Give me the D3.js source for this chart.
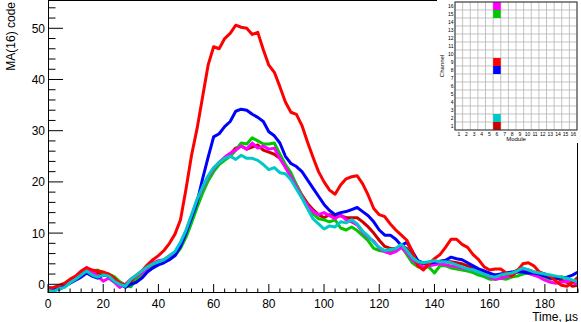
<!DOCTYPE html>
<html>
<head>
<meta charset="utf-8">
<script src="https://cdn.jsdelivr.net/npm/d3@7"></script>
<style>
  body { margin: 0; background: #fff; }
  svg { display: block; font-family: "Liberation Sans", Arial, sans-serif; }
</style>
</head>
<body>
<svg id="chart" width="581" height="322"></svg>
<script>
// sample times, µs (one point every 2 µs)
const times = d3.range(0, 193, 2)

const redVals = [-0.8,-0.6,-0.2,0.2,1.0,1.6,2.6,3.2,2.8,2.6,2.4,2.0,1.2,0.2,-0.2,0.8,1.8,2.6,3.8,4.8,
  5.6,6.6,8.0,9.8,12.6,18.6,25.2,30.4,36.6,42.8,46.4,46.0,48.0,49.0,50.6,50.2,50.0,48.8,49.2,45.8,
  42.8,41.4,38.6,35.6,33.6,33.2,31.0,27.8,24.8,22.0,20.0,18.4,17.6,19.4,20.6,21.0,21.2,19.6,17.4,14.8,
  13.6,13.2,11.8,10.6,9.6,8.6,6.4,3.6,2.8,4.0,5.0,5.8,7.2,8.8,8.8,7.8,7.2,5.8,4.8,3.4,
  2.8,3.0,3.0,2.2,1.6,2.6,4.0,4.2,3.6,2.4,2.0,1.6,0.6,-0.2,-0.4,0.4,1.4]

const blueVals = [-0.6,-0.8,-1.0,-0.4,0.2,0.8,1.4,2.2,1.6,1.2,1.8,1.6,0.6,0.2,-0.6,0.0,0.4,1.2,2.4,3.2,
  3.8,4.2,4.8,5.6,7.4,10.0,13.0,16.0,20.6,24.8,28.8,29.4,30.8,31.8,33.8,34.2,34.0,33.2,32.6,31.8,
  29.8,29.0,27.6,25.0,23.6,23.0,22.0,20.4,18.8,17.2,15.6,14.4,13.6,14.0,14.2,14.6,15.0,14.2,13.4,12.2,
  10.6,9.6,9.6,8.8,7.6,8.2,6.4,4.6,4.2,4.1,4.3,4.5,4.7,5.3,5.0,4.8,4.2,3.6,3.0,2.6,
  2.2,1.8,2.0,2.2,2.4,2.4,2.4,2.2,2.2,2.0,1.6,1.2,1.2,1.3,1.4,1.8,2.4]

const greenVals = [-1.2,-1.0,-0.8,-0.3,0.6,1.0,1.8,2.4,2.4,2.8,2.2,2.0,1.5,0.5,-0.2,-0.5,1.0,1.8,2.6,3.2,
  4.0,4.4,5.0,5.6,7.0,9.2,12.0,15.0,17.8,20.2,22.0,23.4,24.2,25.0,26.2,27.6,27.4,28.6,28.0,27.4,
  27.4,27.6,25.4,23.4,21.8,19.4,17.2,15.2,13.8,12.8,12.6,12.2,12.6,11.0,10.6,11.2,10.5,9.5,8.5,7.0,
  6.6,6.4,6.3,6.6,7.4,5.8,4.2,3.4,3.2,3.4,2.2,3.6,3.6,3.2,3.0,2.8,2.6,2.3,1.8,1.5,
  1.0,1.0,1.2,1.0,1.4,1.6,2.0,2.2,1.8,1.6,1.4,1.0,1.2,1.5,1.0,0.8,0.4]

const magentaVals = [-1.0,-1.3,-0.6,-0.2,0.8,1.5,2.5,3.3,2.4,1.6,0.6,1.2,0.4,-0.6,0.0,1.0,1.6,2.2,3.2,4.2,
  4.6,4.8,5.6,6.2,8.0,10.4,13.4,16.4,18.8,21.0,22.6,23.8,24.8,25.6,26.2,27.0,26.4,27.6,26.6,27.0,
  26.4,26.6,24.6,22.8,21.0,19.0,17.0,15.4,14.2,13.6,14.0,13.4,12.8,13.6,12.6,12.2,11.6,10.2,9.2,8.4,
  7.0,6.4,6.0,6.4,7.2,6.2,4.8,3.8,3.4,3.6,3.8,4.0,3.8,3.6,3.4,3.2,3.0,2.8,2.4,2.0,
  1.4,1.0,1.2,1.4,1.8,2.4,2.6,2.2,1.8,1.4,0.8,0.4,0.2,0.4,0.6,0.4,0.0]

const darkRedVals = [-1.4,-1.0,-0.4,0.0,0.6,1.4,2.2,2.6,2.0,2.2,2.0,1.6,1.0,0.4,-0.2,0.2,1.2,1.8,2.6,3.4,
  4.0,4.4,5.2,6.0,7.8,10.2,13.2,16.2,18.6,20.8,22.4,23.8,24.6,25.4,26.6,27.0,26.4,26.8,27.2,26.2,
  25.8,25.4,24.6,23.0,21.2,19.4,17.4,15.8,14.6,13.6,13.0,13.6,13.2,13.4,13.0,13.0,13.0,12.2,11.2,10.0,
  8.6,7.4,7.0,7.0,7.6,7.0,5.4,4.2,4.0,4.2,4.4,4.2,4.4,4.4,4.2,4.0,3.6,3.2,2.6,2.4,
  2.0,1.8,1.6,1.8,2.2,2.8,3.0,2.8,2.4,2.2,2.0,1.6,1.2,0.8,0.4,-0.4,-0.2]

const cyanVals = [-1.2,-1.4,-0.9,-0.6,0.3,1.0,1.8,2.6,1.8,1.4,1.8,1.6,0.6,0.0,-0.4,1.0,1.8,2.6,3.4,4.0,
  4.4,4.8,5.6,6.4,8.2,10.6,13.6,16.6,19.0,21.2,22.8,23.8,24.6,25.0,24.4,25.2,24.6,24.6,24.2,23.4,
  22.4,22.8,21.8,21.6,20.4,18.6,16.8,14.8,12.8,11.8,10.8,11.4,11.2,12.2,12.0,12.6,11.8,10.4,9.4,8.2,
  7.2,6.6,6.8,7.0,7.8,6.6,5.2,4.4,4.2,4.4,4.6,4.4,4.4,4.2,3.8,3.4,3.0,2.8,2.4,2.0,
  1.6,1.4,1.8,2.0,2.2,2.6,3.2,2.8,2.4,2.2,2.0,1.8,1.6,1.4,1.2,0.8,0.6]

// draw order: last one ends up on top
const series = [
  { name: 'darkred', color: '#cc0000', values: darkRedVals },
  { name: 'green', color: '#00c800', values: greenVals },
  { name: 'magenta', color: '#ff00ff', values: magentaVals },
  { name: 'blue', color: '#0000ff', values: blueVals },
  { name: 'red', color: '#ff0000', values: redVals },
  { name: 'cyan', color: '#00c8c8', values: cyanVals }
]

const xTicks = [0, 20, 40, 60, 80, 100, 120, 140, 160, 180]
const yTicks = [0, 10, 20, 30, 40, 50]

// inset hit map
const modules = d3.range(1, 17)
const channels = d3.range(1, 17)
const hits = [
  { module: 6, channel: 1, color: '#cc0000' },
  { module: 6, channel: 2, color: '#00c8c8' },
  { module: 6, channel: 8, color: '#0000ff' },
  { module: 6, channel: 9, color: '#ff0000' },
  { module: 6, channel: 15, color: '#00c800' },
  { module: 6, channel: 16, color: '#ff00ff' }
]

const svg = d3.select('#chart')
const plot = { left: 48, right: 578, top: 1, bottom: 293 }

const x = d3.scaleLinear().domain([0, 192]).range([plot.left, plot.right])
const y = d3.scaleLinear().domain([-1.7, 55.33]).range([plot.bottom, plot.top])

// curves, clipped to the frame
svg.append('clipPath').attr('id', 'clip')
  .append('rect')
  .attr('x', plot.left).attr('y', plot.top)
  .attr('width', plot.right - plot.left).attr('height', plot.bottom - plot.top)

const line = d3.line()
  .x((d, i) => x(times[i]))
  .y(d => y(d))

svg.append('g').attr('clip-path', 'url(#clip)')
  .selectAll('path')
  .data(series)
  .join('path')
  .attr('fill', 'none')
  .attr('stroke', d => d.color)
  .attr('stroke-width', 3)
  .attr('stroke-linejoin', 'round')
  .attr('d', d => line(d.values))

// x axis: ticks point up into the plot
const xAxis = svg.append('g').attr('transform', `translate(0,${plot.bottom})`)
xAxis.selectAll('line.minor')
  .data(d3.range(0, 193, 4))
  .join('line')
  .attr('x1', d => x(d)).attr('x2', d => x(d))
  .attr('y1', 0)
  .attr('y2', d => xTicks.includes(d) ? -9 : -4.5)
  .attr('stroke', '#000')
xAxis.selectAll('text')
  .data(xTicks)
  .join('text')
  .attr('x', d => x(d))
  .attr('y', 15)
  .attr('text-anchor', 'middle')
  .attr('font-size', 12)
  .text(d => d)

// y axis: ticks point right into the plot
const yAxis = svg.append('g').attr('transform', `translate(${plot.left},0)`)
yAxis.selectAll('line')
  .data(d3.range(0, 55, 2))
  .join('line')
  .attr('x1', 0)
  .attr('x2', d => yTicks.includes(d) ? 15 : 7.5)
  .attr('y1', d => y(d)).attr('y2', d => y(d))
  .attr('stroke', '#000')
yAxis.selectAll('text')
  .data(yTicks)
  .join('text')
  .attr('x', -3)
  .attr('y', d => y(d) + 4.5)
  .attr('text-anchor', 'end')
  .attr('font-size', 12)
  .text(d => d)

// frame
svg.append('rect')
  .attr('x', plot.left + 0.5).attr('y', plot.top - 0.5)
  .attr('width', plot.right - plot.left - 1).attr('height', plot.bottom - plot.top)
  .attr('fill', 'none')
  .attr('stroke', '#000')

svg.append('text')
  .attr('transform', 'translate(15,2) rotate(-90)')
  .attr('text-anchor', 'end')
  .attr('font-size', 12)
  .text('MA(16) code')

svg.append('text')
  .attr('x', 578).attr('y', 320.5)
  .attr('text-anchor', 'end')
  .attr('font-size', 12)
  .text('Time, µs')

// inset: module x channel map
const inset = { left: 455, right: 577, top: 2, bottom: 130 }
const mx = d3.scaleBand().domain(modules).range([inset.left, inset.right])
const cy = d3.scaleBand().domain(channels).range([inset.bottom, inset.top])

const g = svg.append('g')
g.append('rect')
  .attr('x', 437).attr('y', 0)
  .attr('width', 144).attr('height', 143)
  .attr('fill', '#fff')

g.selectAll('line.v')
  .data(d3.range(0, modules.length + 1))
  .join('line')
  .attr('x1', d => inset.left + d * mx.step()).attr('x2', d => inset.left + d * mx.step())
  .attr('y1', inset.top).attr('y2', inset.bottom)
  .attr('stroke', '#b4b4b4').attr('stroke-width', 0.8)
g.selectAll('line.h')
  .data(d3.range(0, channels.length + 1))
  .join('line')
  .attr('y1', d => inset.top + d * cy.step()).attr('y2', d => inset.top + d * cy.step())
  .attr('x1', inset.left).attr('x2', inset.right)
  .attr('stroke', '#b4b4b4').attr('stroke-width', 0.8)

g.selectAll('rect.hit')
  .data(hits)
  .join('rect')
  .attr('class', 'hit')
  .attr('x', d => mx(d.module)).attr('y', d => cy(d.channel))
  .attr('width', mx.bandwidth()).attr('height', cy.bandwidth())
  .attr('fill', d => d.color)

g.append('rect')
  .attr('x', inset.left).attr('y', inset.top)
  .attr('width', inset.right - inset.left).attr('height', inset.bottom - inset.top)
  .attr('fill', 'none').attr('stroke', '#333').attr('stroke-width', 1)

g.selectAll('text.ch')
  .data(channels)
  .join('text')
  .attr('x', inset.left - 1.5)
  .attr('y', d => cy(d) + cy.bandwidth() / 2 + 1.8)
  .attr('text-anchor', 'end')
  .attr('font-size', 5)
  .text(d => d)
g.selectAll('text.mod')
  .data(modules)
  .join('text')
  .attr('x', d => mx(d) + mx.bandwidth() / 2)
  .attr('y', inset.bottom + 5.5)
  .attr('text-anchor', 'middle')
  .attr('font-size', 5)
  .text(d => d)

g.append('text')
  .attr('x', (inset.left + inset.right) / 2).attr('y', 141)
  .attr('text-anchor', 'middle')
  .attr('font-size', 6)
  .text('Module')
g.append('text')
  .attr('transform', `translate(444,${(inset.top + inset.bottom) / 2}) rotate(-90)`)
  .attr('text-anchor', 'middle')
  .attr('font-size', 6)
  .text('Channel')
</script>
</body>
</html>
